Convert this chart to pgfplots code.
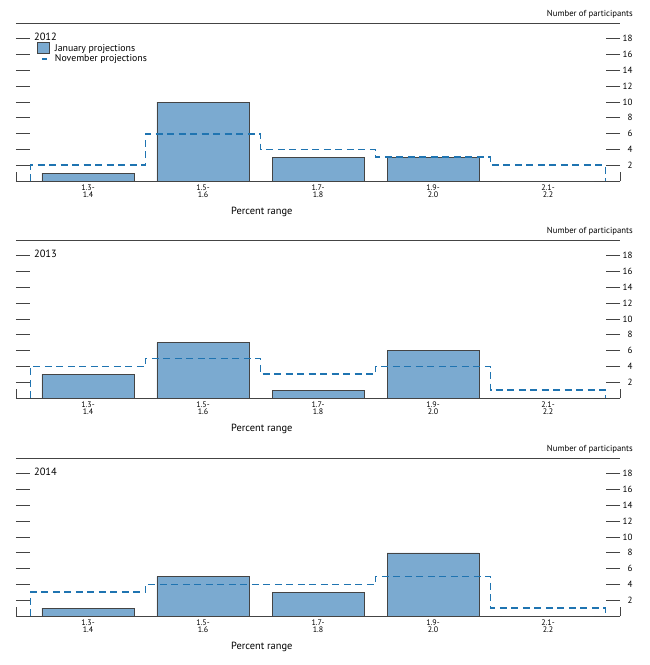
\documentclass[border=0pt]{standalone}
\usepackage{pgfplots}
\pgfplotsset{compat=1.18}
\usepackage{fontspec}
\setmainfont{PT Sans}
\definecolor{barfill}{HTML}{7BAAD0}
\definecolor{novblue}{HTML}{1F74B1}
\definecolor{axisgray}{HTML}{444444}

\pgfplotsset{
  panel/.style={
    width=604pt, height=158pt, scale only axis,
    xmin=-0.626, xmax=4.626, ymin=0, ymax=20,
    clip=false,
    separate axis lines,
    y axis line style={draw=none},
    x axis line style={draw=axisgray, line width=0.8pt},
    xtick={0,...,4},
    xticklabels={{1.3-\\1.4},{1.5-\\1.6},{1.7-\\1.8},{1.9-\\2.0},{2.1-\\2.2}},
    xticklabel style={align=center, font=\fontsize{8}{7.5}\selectfont},
    major x tick style={draw=none},
    ytick={2,4,...,18},
    ytick pos=both, yticklabel pos=right,
    tick align=inside, major tick length=14pt,
    major y tick style={draw=axisgray, line width=0.8pt},
    yticklabel style={anchor=east, xshift=16pt, font=\fontsize{9}{10}\selectfont},
    /pgf/number format/assume math mode=true,
    xlabel={Percent range},
    xlabel style={at={(axis description cs:0.407,0)}, anchor=north, yshift=-23pt,
      font=\fontsize{10.4}{11}\selectfont},
  },
  janbar/.style={ybar, bar width=0.8, fill=barfill, draw=axisgray, line width=0.6pt},
  novline/.style={const plot, novblue, line width=1.8pt, dash pattern=on 7pt off 4.5pt},
}

\newcommand{\panelextras}[1]{%
  \draw[axisgray, line width=0.8pt] (rel axis cs:0,0) -- (rel axis cs:0,0.057);
  \draw[axisgray, line width=0.8pt] (rel axis cs:1,0) -- (rel axis cs:1,0.057);
  \node[anchor=west, font=\fontsize{10.5}{12}\selectfont] at (rel axis cs:0.024,0.911) {#1};
  \node[anchor=south east, inner sep=0pt, xshift=13pt, yshift=5pt,
    font=\fontsize{8.7}{9}\selectfont] at (rel axis cs:1,1) {Number of participants};
}

\begin{document}
\begin{tikzpicture}
\path[use as bounding box] (-16pt,-484pt) rectangle (634pt,181pt);

% 2012
\begin{axis}[panel, at={(0pt,0pt)},
  legend style={draw=none, fill=none, at={(rel axis cs:0.034,0.878)}, anchor=north west,
    font=\fontsize{9.8}{10}\selectfont, row sep=-2pt, inner sep=0pt},
  legend cell align=left]
\addplot[janbar, legend image code/.code={\draw[fill=barfill, draw=axisgray, line width=0.6pt] (0pt,-5pt) rectangle (12pt,6pt); \path (15pt,0pt);}]
  coordinates {(0,1) (1,10) (2,3) (3,3) (4,0)};
\addlegendentry{January projections}
\addplot[novline, legend image code/.code={\draw[novblue, line width=1.8pt] (5pt,0pt) -- (10pt,0pt); \path (15pt,0pt);}]
  coordinates {(-0.5,0) (-0.5,2) (0.5,6) (1.5,4) (2.5,3) (3.5,2) (4.5,2) (4.5,0)};
\addlegendentry{November projections}
\panelextras{2012}
\end{axis}

% 2013
\begin{axis}[panel, at={(0pt,-217pt)}]
\addplot[janbar] coordinates {(0,3) (1,7) (2,1) (3,6) (4,0)};
\addplot[novline] coordinates {(-0.5,0) (-0.5,4) (0.5,5) (1.5,3) (2.5,4) (3.5,1) (4.5,1) (4.5,0)};
\panelextras{2013}
\end{axis}

% 2014
\begin{axis}[panel, at={(0pt,-435pt)}]
\addplot[janbar] coordinates {(0,1) (1,5) (2,3) (3,8) (4,0)};
\addplot[novline] coordinates {(-0.5,0) (-0.5,3) (0.5,4) (1.5,4) (2.5,5) (3.5,1) (4.5,1) (4.5,0)};
\panelextras{2014}
\end{axis}
\end{tikzpicture}
\end{document}
